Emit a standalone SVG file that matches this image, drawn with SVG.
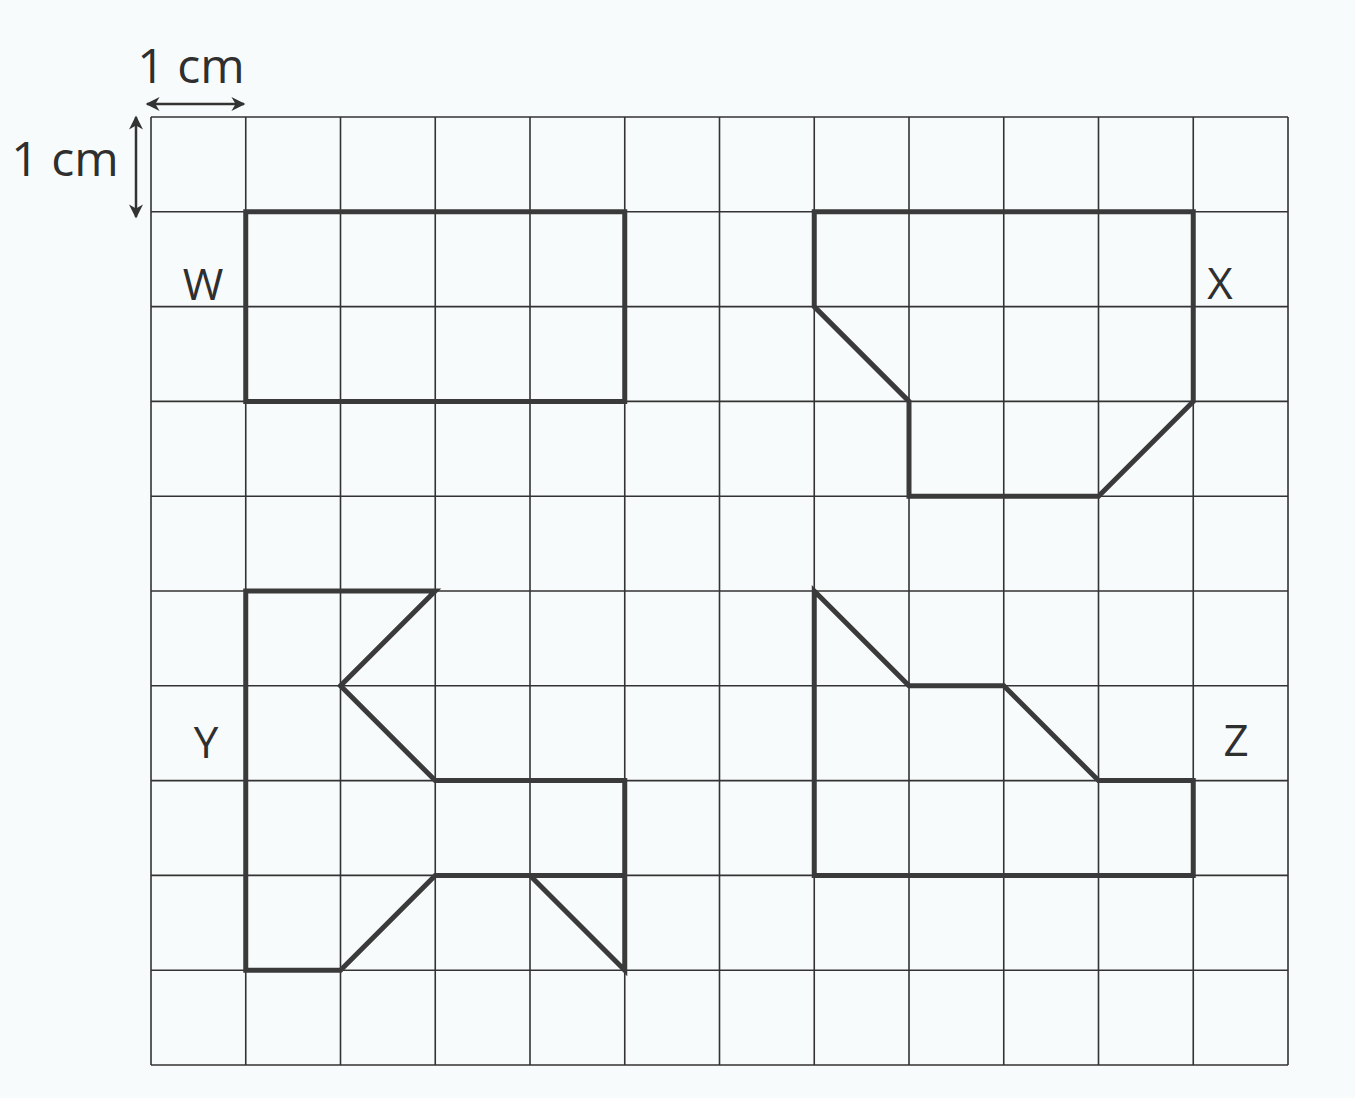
<svg xmlns="http://www.w3.org/2000/svg" width="1355" height="1098" viewBox="0 0 1355 1098">
<defs>
<style>
.grid{stroke:#333;stroke-width:1.6;fill:none}
.shape{stroke:#3a3a3a;stroke-width:5;fill:none;stroke-linejoin:miter}
.lbl{font-family:"Open Sans","Noto Sans",sans-serif;font-size:44px;fill:#2f2f2f}
.cm{font-family:"Open Sans","Noto Sans",sans-serif;font-size:48px;fill:#2f2f2f}
.dim{stroke:#333;stroke-width:2.5;fill:none}
</style>
<marker id="ah" viewBox="0 0 10 10" refX="9" refY="5" markerWidth="15" markerHeight="14" orient="auto-start-reverse" markerUnits="userSpaceOnUse">
<path d="M0,0 L10,5 L0,10 L3,5 z" fill="#333"/>
</marker>
</defs>
<rect width="1355" height="1098" fill="#f8fbfb"/>
<g id="grid" class="grid">
<path d="M151,117V1065M245.75,117V1065M340.5,117V1065M435.25,117V1065M530,117V1065M624.75,117V1065M719.5,117V1065M814.25,117V1065M909,117V1065M1003.75,117V1065M1098.5,117V1065M1193.25,117V1065M1288,117V1065"/>
<path d="M151,117H1288M151,211.8H1288M151,306.6H1288M151,401.4H1288M151,496.2H1288M151,591H1288M151,685.8H1288M151,780.6H1288M151,875.4H1288M151,970.2H1288M151,1065H1288"/>
</g>
<g id="scale">
<line class="dim" x1="147" y1="104" x2="244" y2="104" marker-start="url(#ah)" marker-end="url(#ah)"/>
<line class="dim" x1="136" y1="117" x2="136" y2="217" marker-start="url(#ah)" marker-end="url(#ah)"/>
<text class="cm" x="191" y="83" text-anchor="middle">1 cm</text>
<text class="cm" x="65" y="176" text-anchor="middle">1 cm</text>
</g>
<g id="W">
<polygon class="shape" points="245.75,211.8 624.75,211.8 624.75,401.4 245.75,401.4"/>
<text class="lbl" x="203" y="300" text-anchor="middle">W</text>
</g>
<g id="X">
<polygon class="shape" points="814.25,211.8 1193.25,211.8 1193.25,401.4 1098.5,496.2 909,496.2 909,401.4 814.25,306.6"/>
<text class="lbl" x="1220" y="299" text-anchor="middle">X</text>
</g>
<g id="Y">
<polygon class="shape" points="245.75,591 435.25,591 340.5,685.8 435.25,780.6 624.75,780.6 624.75,875.4 624.75,970.2 530,875.4 435.25,875.4 340.5,970.2 245.75,970.2"/>
<line class="shape" x1="435.25" y1="875.4" x2="624.75" y2="875.4"/>
<text class="lbl" x="206" y="758" text-anchor="middle">Y</text>
</g>
<g id="Z">
<polygon class="shape" points="814.25,591 909,685.8 1003.75,685.8 1098.5,780.6 1193.25,780.6 1193.25,875.4 814.25,875.4"/>
<text class="lbl" x="1236" y="756" text-anchor="middle">Z</text>
</g>
</svg>
